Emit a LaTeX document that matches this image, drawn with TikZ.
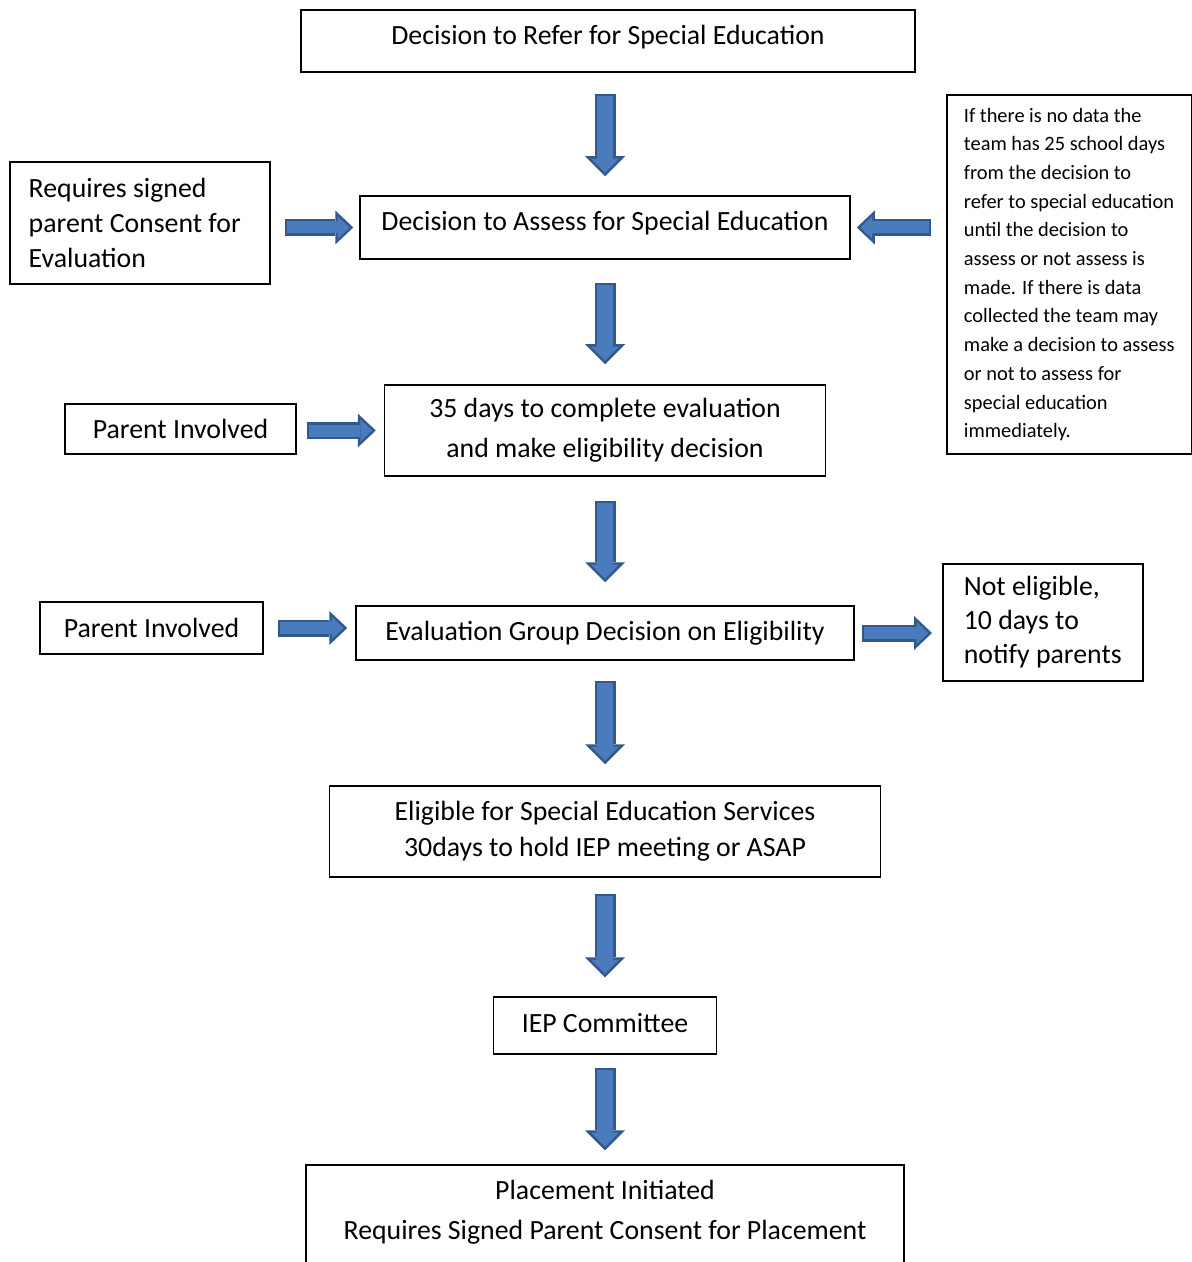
\documentclass[tikz,border=0pt]{standalone}
\usepackage{fontspec}
\setmainfont{Carlito}
\usetikzlibrary{arrows.meta}

\definecolor{flowdark}{RGB}{50,88,140}
\definecolor{flowfill}{RGB}{74,123,188}

\tikzset{
  box/.style={draw, line width=0.75pt, fill=white, inner sep=4pt, align=center,
    font=\fontsize{13.9}{20}\selectfont},
  sidebox/.style={box, align=flush left, anchor=west},
  uptext/.style={text depth=6.5pt},
  downout/.style={draw=flowdark, line width=10.5pt,
    -{Triangle[length=10pt, width=20pt, line width=0pt]}},
  downin/.style={draw=flowfill, line width=8pt,
    -{Triangle[length=7pt, width=14pt, line width=0pt]}},
  sideout/.style={draw=flowdark, line width=8.5pt,
    -{Triangle[length=9pt, width=17pt, line width=0pt]}},
  sidein/.style={draw=flowfill, line width=6pt,
    -{Triangle[length=5.9pt, width=11.2pt, line width=0pt]}}
}

\begin{document}
\begin{tikzpicture}[x=0.5pt, y=-0.5pt]
  \fill[white] (0,0) rectangle (1192,1262);
  \useasboundingbox (0,0) rectangle (1192,1262);

  % main column
  \node[box, uptext, minimum width=307pt, minimum height=31pt] (refer) at (608,41)
    {Decision to Refer for Special Education};
  \node[box, uptext, minimum width=245pt, minimum height=31.5pt] (assess) at (605,227.5)
    {Decision to Assess for Special Education};
  \node[box, minimum width=220.5pt, minimum height=45.5pt] (days) at (605,430.5)
    {35 days to complete evaluation\\and make eligibility decision};
  \node[box, minimum width=249pt, minimum height=27pt] (evalgroup) at (605,633)
    {Evaluation Group Decision on Eligibility};
  \node[box, font=\fontsize{13.9}{18}\selectfont, minimum width=275.5pt, minimum height=45.5pt]
    (eligible) at (605,831.5)
    {Eligible for Special Education Services\\30days to hold IEP meeting or ASAP};
  \node[box, text depth=3pt, minimum width=111.5pt, minimum height=28.5pt] (iep) at (605,1025.5)
    {IEP Committee};
  \node[box, minimum width=299pt, minimum height=65pt] (placement) at (605,1230)
    {Placement Initiated\\Requires Signed Parent Consent for Placement\\\mbox{}};

  % side boxes
  \node[sidebox, font=\fontsize{13.9}{17.5}\selectfont, text width=111pt, inner xsep=9.5pt,
    minimum height=61pt] (consent) at (9,223)
    {Requires signed\\parent Consent for\\Evaluation};
  \node[sidebox, font=\fontsize{10.2}{14.35}\selectfont, minimum width=122.5pt,
    minimum height=179.5pt] (note) at (946,274.5)
    {If there is no data the\\team has 25 school days\\from the decision to\\refer to special education\\until the decision to\\assess or not assess is\\made. If there is data\\collected the team may\\make a decision to assess\\or not to assess for\\special education\\immediately.};
  \node[box, minimum width=115.5pt, minimum height=25pt] (parent1) at (180.5,429)
    {Parent Involved};
  \node[box, minimum width=111.5pt, minimum height=26pt] (parent2) at (151.5,628)
    {Parent Involved};
  \node[sidebox, font=\fontsize{13.9}{17}\selectfont, minimum width=100pt,
    minimum height=58.5pt] (noteligible) at (942,622.5)
    {Not eligible,\\10 days to\\notify parents};

  % down arrows
  \foreach \from/\to/\gapa/\gapb in {{refer.south -| assess.north}/assess/10.5/9.5,
      assess/days/11.5/10, days/evalgroup/12/11.5, evalgroup/eligible/10/10.5,
      eligible/iep/8/9.5, iep/placement/6.5/7} {
    \draw[downout, shorten <=\gapa pt, shorten >=\gapb pt] (\from) -- (\to);
    \draw[downin, shorten <=\gapa pt+1.25pt, shorten >=\gapb pt+1.77pt] (\from) -- (\to);
  }

  % side arrows
  \foreach \from/\to/\gapa/\gapb in {{consent.east |- assess.west}/assess.west/7/3,
      {note.west |- assess.east}/assess.east/7.5/3,
      {parent1.east |- days.west}/days.west/5/4,
      parent2.east/{parent2.east -| evalgroup.west}/7/4,
      evalgroup.east/{evalgroup.east -| noteligible.west}/3.5/5} {
    \draw[sideout, shorten <=\gapa pt, shorten >=\gapb pt] (\from) -- (\to);
    \draw[sidein, shorten <=\gapa pt+1.25pt, shorten >=\gapb pt+1.82pt] (\from) -- (\to);
  }
\end{tikzpicture}
\end{document}
